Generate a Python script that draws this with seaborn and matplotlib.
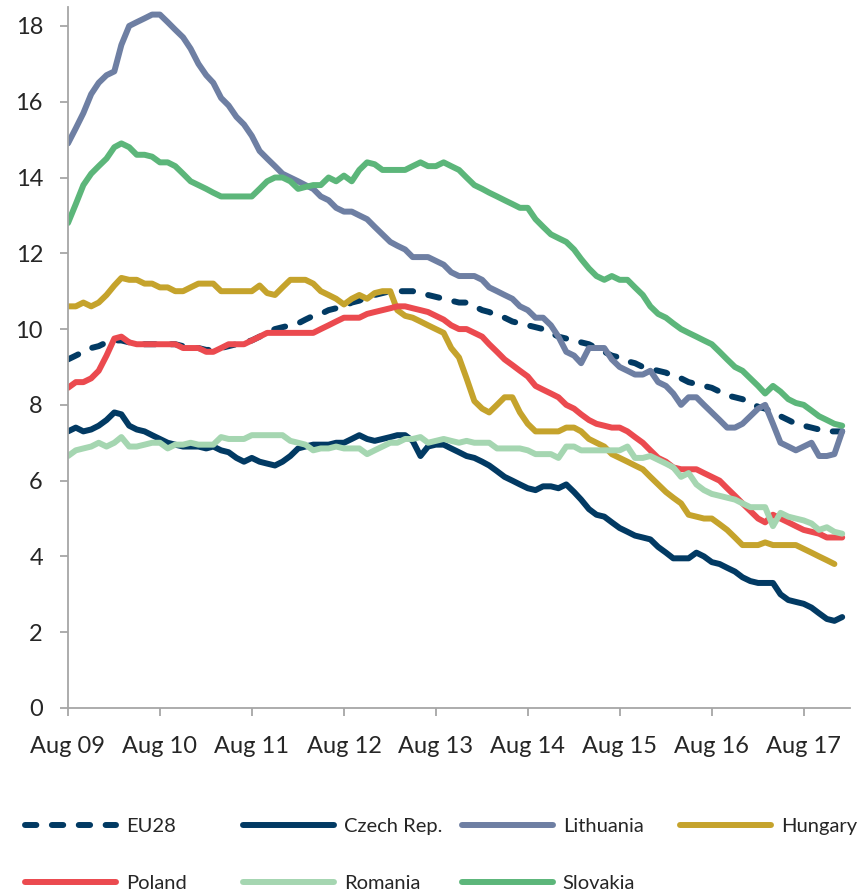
import matplotlib.pyplot as plt
import matplotlib.dates as mdates
import numpy as np
import pandas as pd
import seaborn as sns

months = pd.date_range("2009-08-01", periods=102, freq="MS")

eu28 = [9.2, 9.3, 9.4, 9.5, 9.55, 9.65, 9.7, 9.7, 9.65, 9.6, 9.6, 9.6, 9.6, 9.6, 9.6, 9.55, 9.5, 9.5, 9.45, 9.45,
        9.5, 9.55, 9.6, 9.65, 9.7, 9.8, 9.9, 10.0, 10.05, 10.1, 10.15, 10.25, 10.35, 10.4, 10.5, 10.55, 10.6, 10.7, 10.75, 10.85,
        10.9, 10.95, 11.0, 11.0, 11.0, 11.0, 10.95, 10.9, 10.85, 10.8, 10.75, 10.7, 10.7, 10.6, 10.5, 10.45, 10.35, 10.3, 10.2, 10.15,
        10.1, 10.05, 10.0, 9.9, 9.8, 9.75, 9.7, 9.65, 9.6, 9.5, 9.4, 9.3, 9.25, 9.15, 9.1, 9.0, 8.95, 8.9, 8.85, 8.75,
        8.7, 8.6, 8.55, 8.5, 8.45, 8.35, 8.25, 8.2, 8.15, 8.05, 7.95, 7.9, 7.8, 7.7, 7.6, 7.5, 7.45, 7.4, 7.35, 7.3,
        7.3, 7.3]
czech = [7.3, 7.4, 7.3, 7.35, 7.45, 7.6, 7.8, 7.75, 7.45, 7.35, 7.3, 7.2, 7.1, 7.0, 6.95, 6.9, 6.9, 6.9, 6.85, 6.9,
         6.8, 6.75, 6.6, 6.5, 6.6, 6.5, 6.45, 6.4, 6.5, 6.65, 6.85, 6.9, 6.95, 6.95, 6.95, 7.0, 7.0, 7.1, 7.2, 7.1,
         7.05, 7.1, 7.15, 7.2, 7.2, 7.05, 6.65, 6.9, 6.95, 6.95, 6.85, 6.75, 6.65, 6.6, 6.5, 6.4, 6.25, 6.1, 6.0, 5.9,
         5.8, 5.75, 5.85, 5.85, 5.8, 5.9, 5.7, 5.5, 5.25, 5.1, 5.05, 4.9, 4.75, 4.65, 4.55, 4.5, 4.45, 4.25, 4.1, 3.95,
         3.95, 3.95, 4.1, 4.0, 3.85, 3.8, 3.7, 3.6, 3.45, 3.35, 3.3, 3.3, 3.3, 3.0, 2.85, 2.8, 2.75, 2.65, 2.5, 2.35,
         2.3, 2.4]
lithuania = [14.9, 15.3, 15.7, 16.2, 16.5, 16.7, 16.8, 17.5, 18.0, 18.1, 18.2, 18.3, 18.3, 18.1, 17.9, 17.7, 17.4, 17.0, 16.7, 16.5,
             16.1, 15.9, 15.6, 15.4, 15.1, 14.7, 14.5, 14.3, 14.1, 14.0, 13.9, 13.8, 13.7, 13.5, 13.4, 13.2, 13.1, 13.1, 13.0, 12.9,
             12.7, 12.5, 12.3, 12.2, 12.1, 11.9, 11.9, 11.9, 11.8, 11.7, 11.5, 11.4, 11.4, 11.4, 11.3, 11.1, 11.0, 10.9, 10.8, 10.6,
             10.5, 10.3, 10.3, 10.1, 9.8, 9.4, 9.3, 9.1, 9.5, 9.5, 9.5, 9.2, 9.0, 8.9, 8.8, 8.8, 8.9, 8.6, 8.5, 8.3,
             8.0, 8.2, 8.2, 8.0, 7.8, 7.6, 7.4, 7.4, 7.5, 7.7, 7.9, 8.0, 7.5, 7.0, 6.9, 6.8, 6.9, 7.0, 6.65, 6.65,
             6.7, 7.3]
hungary = [10.6, 10.6, 10.7, 10.6, 10.7, 10.9, 11.15, 11.35, 11.3, 11.3, 11.2, 11.2, 11.1, 11.1, 11.0, 11.0, 11.1, 11.2, 11.2, 11.2,
           11.0, 11.0, 11.0, 11.0, 11.0, 11.15, 10.95, 10.9, 11.1, 11.3, 11.3, 11.3, 11.2, 11.0, 10.9, 10.8, 10.65, 10.8, 10.9, 10.8,
           10.95, 11.0, 11.0, 10.5, 10.35, 10.3, 10.2, 10.1, 10.0, 9.9, 9.5, 9.25, 8.7, 8.1, 7.9, 7.8, 8.0, 8.2, 8.2, 7.8,
           7.5, 7.3, 7.3, 7.3, 7.3, 7.4, 7.4, 7.3, 7.1, 7.0, 6.9, 6.7, 6.6, 6.5, 6.4, 6.3, 6.1, 5.9, 5.7, 5.55,
           5.4, 5.1, 5.05, 5.0, 5.0, 4.85, 4.7, 4.5, 4.3, 4.3, 4.3, 4.37, 4.3, 4.3, 4.3, 4.3, 4.2, 4.1, 4.0, 3.9,
           3.8, np.nan]
poland = [8.45, 8.6, 8.6, 8.7, 8.9, 9.3, 9.75, 9.8, 9.65, 9.6, 9.6, 9.6, 9.6, 9.6, 9.6, 9.5, 9.5, 9.5, 9.4, 9.4,
          9.5, 9.6, 9.6, 9.6, 9.7, 9.8, 9.9, 9.9, 9.9, 9.9, 9.9, 9.9, 9.9, 10.0, 10.1, 10.2, 10.3, 10.3, 10.3, 10.4,
          10.45, 10.5, 10.55, 10.6, 10.6, 10.55, 10.5, 10.45, 10.35, 10.25, 10.1, 10.0, 10.0, 9.9, 9.8, 9.6, 9.4, 9.2, 9.05, 8.9,
          8.75, 8.5, 8.4, 8.3, 8.2, 8.0, 7.9, 7.75, 7.6, 7.5, 7.45, 7.4, 7.4, 7.3, 7.15, 7.0, 6.8, 6.6, 6.5, 6.35,
          6.3, 6.3, 6.3, 6.2, 6.1, 6.0, 5.8, 5.6, 5.4, 5.2, 5.0, 4.9, 5.1, 5.0, 4.9, 4.8, 4.7, 4.65, 4.6, 4.5,
          4.5, 4.5]
romania = [6.65, 6.8, 6.85, 6.9, 7.0, 6.9, 7.0, 7.15, 6.9, 6.9, 6.95, 7.0, 7.0, 6.85, 6.95, 6.95, 7.0, 6.95, 6.95, 6.95,
           7.15, 7.1, 7.1, 7.1, 7.2, 7.2, 7.2, 7.2, 7.2, 7.05, 7.0, 6.95, 6.8, 6.85, 6.85, 6.9, 6.85, 6.85, 6.85, 6.7,
           6.8, 6.9, 7.0, 7.0, 7.1, 7.1, 7.15, 7.0, 7.05, 7.1, 7.05, 7.0, 7.05, 7.0, 7.0, 7.0, 6.85, 6.85, 6.85, 6.85,
           6.8, 6.7, 6.7, 6.7, 6.6, 6.9, 6.9, 6.8, 6.8, 6.8, 6.8, 6.8, 6.8, 6.9, 6.6, 6.6, 6.65, 6.55, 6.45, 6.35,
           6.1, 6.2, 5.9, 5.75, 5.65, 5.6, 5.55, 5.5, 5.4, 5.3, 5.3, 5.3, 4.8, 5.15, 5.05, 5.0, 4.95, 4.87, 4.7, 4.77,
           4.65, 4.6]
slovakia = [12.8, 13.3, 13.8, 14.1, 14.3, 14.5, 14.8, 14.9, 14.8, 14.6, 14.6, 14.55, 14.4, 14.4, 14.3, 14.1, 13.9, 13.8, 13.7, 13.6,
            13.5, 13.5, 13.5, 13.5, 13.5, 13.7, 13.9, 14.0, 14.0, 13.9, 13.7, 13.75, 13.8, 13.8, 14.0, 13.9, 14.05, 13.9, 14.2, 14.4,
            14.35, 14.2, 14.2, 14.2, 14.2, 14.3, 14.4, 14.3, 14.3, 14.4, 14.3, 14.2, 14.0, 13.8, 13.7, 13.6, 13.5, 13.4, 13.3, 13.2,
            13.2, 12.9, 12.7, 12.5, 12.4, 12.3, 12.1, 11.85, 11.6, 11.4, 11.3, 11.4, 11.3, 11.3, 11.1, 10.9, 10.6, 10.4, 10.3, 10.15,
            10.0, 9.9, 9.8, 9.7, 9.6, 9.4, 9.2, 9.0, 8.9, 8.7, 8.5, 8.3, 8.5, 8.35, 8.15, 8.05, 8.0, 7.85, 7.7, 7.6,
            7.5, 7.45]

names = ["EU28", "Czech Rep.", "Lithuania", "Hungary", "Poland", "Romania", "Slovakia"]
series = [eu28, czech, lithuania, hungary, poland, romania, slovakia]
colors = ["#023a63", "#023a63", "#6e7fa3", "#c5a32c", "#eb4a4f", "#a5d6b1", "#5cb67a"]

sns.set_theme(style="white")
plt.rcParams["font.family"] = ["Lato", "DejaVu Sans"]
plt.rcParams["lines.solid_capstyle"] = "round"
plt.rcParams["lines.dash_capstyle"] = "round"
plt.rcParams["lines.solid_joinstyle"] = "round"

fig = plt.figure(figsize=(8.64, 8.92), dpi=100)
ax = fig.add_axes([68 / 864, 184 / 892, 782 / 864, 701 / 892])

for name, vals, col in zip(names, series, colors):
    df = pd.DataFrame({"date": months, "rate": vals}).dropna()
    sns.lineplot(data=df, x="date", y="rate", color=col, linewidth=4.3, label=name, ax=ax)
    if name == "EU28":
        ax.lines[-1].set_dashes([1.9, 2.6])

ax.set_xlim(pd.Timestamp("2009-08-01"), pd.Timestamp("2018-02-01"))
ax.set_ylim(0, 18.5)
ax.set_yticks(range(0, 19, 2))
ax.xaxis.set_major_locator(mdates.MonthLocator(bymonth=8))
ax.xaxis.set_major_formatter(mdates.DateFormatter("%b %y"))
ax.set_xlabel("")
ax.set_ylabel("")

grey = "#a6a6a6"
for s in ["top", "right"]:
    ax.spines[s].set_visible(False)
for s in ["left", "bottom"]:
    ax.spines[s].set_color(grey)
    ax.spines[s].set_linewidth(1.3)
ax.tick_params(axis="both", which="major", length=6, width=1.3, color=grey,
               labelsize=17, labelcolor="#262626", direction="out")
ax.tick_params(axis="y", pad=12, left=True)
ax.tick_params(axis="x", pad=14, bottom=True)

handles, labels = ax.get_legend_handles_labels()
ax.get_legend().remove()
cols = [[0, 4], [1, 5], [2, 6], [3]]
xs = [25, 243, 462, 680]
for idx, x0 in zip(cols, xs):
    fig.legend([handles[i] for i in idx], [labels[i] for i in idx],
               loc="upper left", bbox_to_anchor=(x0 / 864, 1 - 818 / 892),
               frameon=False, fontsize=14.5, handlelength=4.5, handletextpad=0.5,
               labelspacing=2.0, borderpad=0, borderaxespad=0, labelcolor="#262626")

fig.savefig("out.png", dpi=100)
